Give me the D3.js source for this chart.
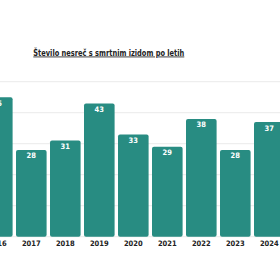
<!DOCTYPE html>
<html>
<head>
<meta charset="utf-8">
<script src="https://cdn.jsdelivr.net/npm/d3@7"></script>
<style>
  html, body { margin: 0; padding: 0; background: #fff; }
  svg { display: block; }
</style>
</head>
<body>
<svg id="chart"></svg>
<script>
const years = ["2016", "2017", "2018", "2019", "2020", "2021", "2022", "2023", "2024"];
const accidents = [45, 28, 31, 43, 33, 29, 38, 28, 37];
const gridTicks = [0, 10, 20, 30, 40, 50];
const title = "Število nesreč s smrtnim izidom po letih";

const width = 280;
const height = 280;
const base = 236.7;

const svg = d3.select("#chart")
  .attr("width", width)
  .attr("height", height);

const x = d3.scaleBand()
  .domain(years)
  .range([-18, 284.6])
  .paddingInner(0.1)
  .paddingOuter(0);

const y = d3.scaleLinear()
  .domain([0, 50])
  .range([base, 81.7]);

// grid lines behind bars
svg.append("g")
  .selectAll("line")
  .data(gridTicks)
  .enter()
  .append("line")
  .attr("x1", 0)
  .attr("x2", width)
  .attr("y1", d => y(d))
  .attr("y2", d => y(d))
  .attr("stroke", "#ebebeb")
  .attr("stroke-width", 1);

svg.append("text")
  .attr("x", 33.3)
  .attr("y", 55.5)
  .attr("textLength", 151)
  .attr("lengthAdjust", "spacingAndGlyphs")
  .style("font-family", "'DejaVu Sans Condensed', 'DejaVu Sans', sans-serif")
  .style("font-weight", "bold")
  .style("font-size", "8.5px")
  .style("fill", "#222")
  .style("text-decoration", "underline")
  .text(title);

svg.selectAll(".bar")
  .data(accidents)
  .enter()
  .append("rect")
  .attr("class", "bar")
  .attr("x", (d, i) => x(years[i]))
  .attr("y", d => y(d))
  .attr("width", x.bandwidth())
  .attr("height", d => base - y(d))
  .attr("rx", 2)
  .attr("fill", "#288c82");

svg.selectAll(".val")
  .data(accidents)
  .enter()
  .append("text")
  .attr("class", "val")
  .attr("x", (d, i) => x(years[i]) + x.bandwidth() / 2)
  .attr("y", d => y(d) + 8.5)
  .attr("text-anchor", "middle")
  .style("font-family", "'DejaVu Sans Condensed', 'DejaVu Sans', sans-serif")
  .style("font-weight", "bold")
  .style("font-size", "7.5px")
  .style("fill", "#fff")
  .text(d => d);

svg.append("g")
  .attr("transform", `translate(0,${base})`)
  .call(d3.axisBottom(x).tickSize(0).tickPadding(4))
  .call(g => g.select(".domain").remove())
  .selectAll("text")
  .style("font-family", "'DejaVu Sans Condensed', 'DejaVu Sans', sans-serif")
  .style("font-weight", "bold")
  .style("font-size", "7.5px")
  .style("fill", "#222");
</script>
</body>
</html>
